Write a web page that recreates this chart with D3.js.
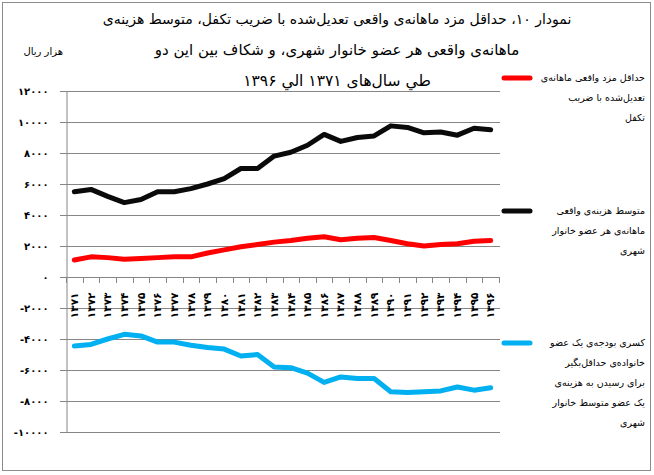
<!DOCTYPE html>
<html><head><meta charset="utf-8">
<script src="https://cdn.jsdelivr.net/npm/d3@7"></script>
<style>
html,body{margin:0;padding:0;background:#fff;}
svg{display:block;}
text{font-family:"DejaVu Sans",sans-serif;}
</style></head>
<body>
<svg id="c" width="654" height="475"></svg>
<script>
const years = ["۱۳۷۱","۱۳۷۲","۱۳۷۳","۱۳۷۴","۱۳۷۵","۱۳۷۶","۱۳۷۷","۱۳۷۸","۱۳۷۹","۱۳۸۰","۱۳۸۱","۱۳۸۲","۱۳۸۳","۱۳۸۴","۱۳۸۵","۱۳۸۶","۱۳۸۷","۱۳۸۸","۱۳۸۹","۱۳۹۰","۱۳۹۱","۱۳۹۲","۱۳۹۳","۱۳۹۴","۱۳۹۵","۱۳۹۶"];
const minWage = [1100,1300,1250,1150,1200,1250,1300,1300,1550,1750,1950,2100,2250,2350,2500,2600,2400,2500,2550,2350,2150,2000,2100,2150,2300,2350];
const avgCost = [5500,5650,5200,4800,5000,5500,5500,5700,6000,6350,7000,7000,7800,8050,8500,9200,8750,9000,9100,9750,9650,9300,9350,9150,9600,9500];
const deficit = [-4450,-4350,-4000,-3700,-3800,-4200,-4200,-4400,-4550,-4650,-5100,-5000,-5800,-5850,-6200,-6800,-6450,-6550,-6550,-7400,-7450,-7400,-7350,-7100,-7300,-7150];
const yTicks = [-10000,-8000,-6000,-4000,-2000,0,2000,4000,6000,8000,10000,12000];
const titleLines = ["نمودار ۱۰، حداقل مزد ماهانه‌ی واقعی تعدیل‌شده با ضریب تکفل، متوسط هزینه‌ی","ماهانه‌ی واقعی هر عضو خانوار شهری، و شکاف بین این دو","طي سال‌های ۱۳۷۱ الي ۱۳۹۶"];
const unitLabel = "هزار ریال";
const series = [
  {name:["حداقل مزد واقعی ماهانه‌ی","تعدیل‌شده با ضریب","تکفل"], values:minWage, color:"#ff0000"},
  {name:["متوسط هزینه‌ی واقعی","ماهانه‌ی هر عضو خانوار","شهری"], values:avgCost, color:"#0a0a0a"},
  {name:["کسری بودجه‌ی یک عضو","خانواده‌ی حداقل‌بگیر","برای رسیدن به هزینه‌ی","یک عضو متوسط خانوار","شهری"], values:deficit, color:"#00b0f0"}
];

const fa = s => String(s).replace(/\d/g, d => "۰۱۲۳۴۵۶۷۸۹"[d]);

const svg = d3.select("#c");
svg.append("rect").attr("x",2.5).attr("y",2.5).attr("width",648).attr("height",468)
  .attr("fill","none").attr("stroke","#8c8c8c").attr("stroke-width",1);

const x = d3.scaleBand().domain(years).range([66,499]);
const y = d3.scaleLinear().domain([-10000,12000]).range([432,91]);

// gridlines
svg.append("g").selectAll("line").data(yTicks).join("line")
  .attr("x1",60).attr("x2",500)
  .attr("y1",d=>Math.round(y(d))+0.5).attr("y2",d=>Math.round(y(d))+0.5)
  .attr("stroke","#868686").attr("stroke-width",1);

// y axis
const yAxis = d3.axisLeft(y).tickValues(yTicks).tickSize(0).tickPadding(18).tickFormat(d=>fa(d));
const gy = svg.append("g").attr("transform","translate(66.5,0)").call(yAxis);
gy.select(".domain").attr("stroke","#868686");
gy.selectAll("text").attr("font-size",10).attr("font-weight","bold").attr("fill","#000")
  .style("direction","ltr").attr("dy","0.35em");

// x axis at 0
const xAxis = d3.axisBottom(x).tickSize(0).tickFormat(d=>d);
const gx = svg.append("g").attr("transform",`translate(0,${Math.round(y(0))+0.5})`).call(xAxis);
gx.select(".domain").remove();
gx.selectAll("text").attr("font-size",10.5).attr("font-weight","bold").attr("fill","#000")
  .attr("text-anchor","end").attr("transform","translate(0,15) rotate(-90)")
  .attr("x",0).attr("y",0).attr("dy","0.35em");
// band boundary ticks
const bounds = years.map(d=>x(d)).concat([x.range()[1]]);
svg.append("g").selectAll("line").data(bounds).join("line")
  .attr("x1",d=>Math.round(d)+0.5).attr("x2",d=>Math.round(d)+0.5)
  .attr("y1",Math.round(y(0))).attr("y2",Math.round(y(0))+6)
  .attr("stroke","#868686");

// lines
const line = d3.line().x((d,i)=>x(years[i])+x.bandwidth()/2).y(d=>y(d));
series.forEach(s=>{
  svg.append("path").datum(s.values).attr("d",line).attr("fill","none")
    .attr("stroke",s.color).attr("stroke-width",5).attr("stroke-linejoin","round").attr("stroke-linecap","round");
});

// title
const ty = [24,55,86], tf=[14,15,15.5];
titleLines.forEach((t,i)=>{
  svg.append("text").attr("x",337).attr("y",ty[i]).attr("text-anchor","middle")
    .attr("font-size",tf[i]).style("direction","rtl").attr("fill","#000").text(t);
});
svg.append("text").attr("x",63).attr("y",55).attr("font-size",10)
  .style("direction","rtl").attr("text-anchor","start").attr("fill","#000").text(unitLabel);

// legend
const legY = [78,211,343];
series.forEach((s,i)=>{
  svg.append("line").attr("x1",504).attr("x2",530).attr("y1",legY[i]).attr("y2",legY[i])
    .attr("stroke",s.color).attr("stroke-width",5).attr("stroke-linecap","round");
  s.name.forEach((t,j)=>{
    svg.append("text").attr("x",645).attr("y",legY[i]+3+j*20).attr("font-size",9.5)
      .style("direction","rtl").attr("text-anchor","start").attr("fill","#000").text(t);
  });
});
</script>
</body></html>
